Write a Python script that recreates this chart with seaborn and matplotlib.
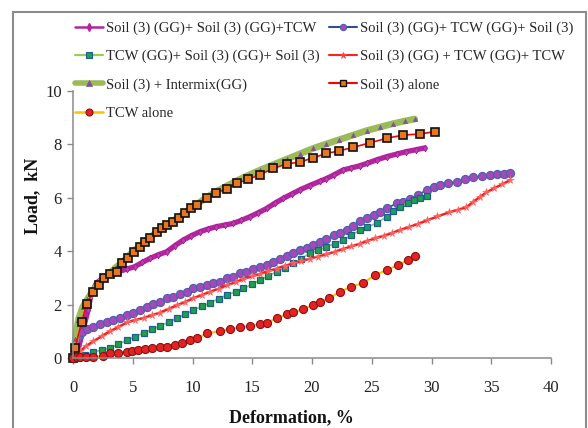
import matplotlib
matplotlib.use("Agg")
import matplotlib.pyplot as plt
from matplotlib.lines import Line2D
from matplotlib.patches import Rectangle
import seaborn as sns

# ---- data: deformation (%) vs load (kN) ----
s1_x = [0, 0.17, 0.42, 0.84, 1.26, 1.53, 1.95, 2.65, 3.2, 3.77, 4.5, 5.16, 5.8, 6.44, 7.1, 7.84,
        8.5, 9.23, 9.9, 10.63, 11.3, 12.0, 12.7, 13.4, 14.1, 14.8, 15.5, 16.2, 16.9, 17.6, 18.3,
        19.0, 19.8, 20.67, 21.2, 21.8, 22.6, 23.3, 24.0, 24.6, 25.4, 26.25, 27.1, 27.9, 28.7, 29.45]
s1_y = [0, 0.05, 0.3, 1.05, 1.8, 2.42, 2.8, 3.05, 3.15, 3.23, 3.33, 3.42, 3.58, 3.73, 3.86, 3.98,
        4.2, 4.42, 4.58, 4.73, 4.83, 4.92, 4.98, 5.04, 5.16, 5.29, 5.44, 5.6, 5.8, 5.98, 6.14,
        6.3, 6.46, 6.62, 6.72, 6.85, 7.04, 7.12, 7.2, 7.29, 7.42, 7.54, 7.64, 7.73, 7.8, 7.87]

s2_x = [0, 0.17, 0.44, 0.73, 1.14, 1.7, 2.26, 2.82, 3.37, 3.93, 4.49, 5.05, 5.6, 6.17, 6.72, 7.28,
        7.84, 8.4, 8.95, 9.5, 10.07, 10.6, 11.2, 11.74, 12.3, 12.86, 13.4, 14.0, 14.5, 15.1, 15.65,
        16.2, 16.76, 17.3, 17.9, 18.4, 19.0, 19.55, 20.1, 20.67, 21.2, 21.8, 22.34, 22.9, 23.45,
        24.0, 24.6, 25.2, 25.7, 26.3, 27.1, 27.6, 28.2, 28.9, 29.6, 30.2, 30.7, 31.4, 32.1, 32.8,
        33.5, 34.2, 34.9, 35.5, 36.1, 36.6]
s2_y = [0, 0.05, 0.8, 0.98, 1.07, 1.17, 1.27, 1.36, 1.42, 1.51, 1.61, 1.7, 1.8, 1.92, 2.02, 2.11,
        2.23, 2.3, 2.38, 2.48, 2.61, 2.67, 2.73, 2.8, 2.86, 2.98, 3.04, 3.17, 3.23, 3.33, 3.42,
        3.5, 3.6, 3.72, 3.82, 3.92, 4.06, 4.13, 4.23, 4.36, 4.44, 4.6, 4.7, 4.8, 4.94,
        5.12, 5.25, 5.36, 5.48, 5.62, 5.79, 5.86, 5.94, 6.12, 6.29, 6.4, 6.48, 6.55, 6.6, 6.7,
        6.77, 6.81, 6.85, 6.88, 6.9, 6.94]

s3_x = [0, 0.17, 0.6, 1.0, 1.7, 2.4, 3.1, 3.8, 4.5, 5.2, 5.9, 6.6, 7.28, 8.0, 8.68, 9.4, 10.07,
        10.8, 11.46, 12.2, 12.86, 13.6, 14.25, 15.0, 15.65, 16.3, 17.05, 17.7, 18.43, 19.1, 19.8,
        20.5, 21.2, 21.9, 22.6, 23.3, 24.0, 24.6, 25.4, 26.25, 26.8, 27.4, 28.0, 28.5, 29.0, 29.6]
s3_y = [0, 0, 0.08, 0.13, 0.22, 0.3, 0.38, 0.52, 0.66, 0.8, 0.94, 1.07, 1.2, 1.34, 1.49, 1.64, 1.8,
        1.93, 2.07, 2.22, 2.36, 2.48, 2.61, 2.76, 2.92, 3.07, 3.23, 3.38, 3.54, 3.72, 3.92,
        4.04, 4.17, 4.28, 4.42, 4.6, 4.79, 4.9, 5.05, 5.29, 5.5, 5.67, 5.8, 5.92, 6.0, 6.07]

s4_x = [0, 0.3, 0.59, 1.1, 1.7, 2.4, 3.1, 3.8, 4.5, 5.2, 5.9, 6.6, 7.28, 8.0, 8.68, 9.4, 10.07,
        10.8, 11.46, 12.2, 12.86, 13.6, 14.25, 15.0, 15.65, 16.3, 17.05, 17.7, 18.43, 19.1, 19.83,
        20.5, 21.2, 21.9, 22.6, 23.3, 24.0, 24.6, 25.3, 26.0, 26.7, 27.4, 28.1, 28.9, 29.6, 30.5,
        31.5, 32.2, 32.9, 33.5, 34.06, 34.6, 35.2, 35.9, 36.6]
s4_y = [0, 0.12, 0.25, 0.45, 0.62, 0.82, 1.0, 1.16, 1.33, 1.42, 1.5, 1.6, 1.7, 1.84, 1.97, 2.1, 2.24,
        2.36, 2.48, 2.6, 2.72, 2.84, 2.96, 3.06, 3.15, 3.25, 3.35, 3.45, 3.54, 3.63, 3.72,
        3.8, 3.88, 3.98, 4.08, 4.18, 4.28, 4.38, 4.48, 4.58, 4.68, 4.8, 4.9, 5.03, 5.15, 5.3,
        5.46, 5.55, 5.64, 5.85, 6.04, 6.2, 6.35, 6.5, 6.67]

s5_x = [0, 0.2, 0.44, 0.8, 1.2, 1.7, 2.3, 3.0, 3.6, 4.2, 5.0, 5.6, 6.2, 7.0, 7.6, 8.4, 9.0, 9.8,
        10.5, 11.2, 12.0, 12.9, 13.7, 14.7, 15.65, 16.8, 17.9, 19.0, 20.1, 21.2, 22.3, 23.45,
        24.6, 25.7, 26.8, 27.8, 28.6]
s5_y = [0, 0.7, 1.42, 1.9, 2.2, 2.55, 2.85, 3.15, 3.4, 3.62, 3.98, 4.2, 4.42, 4.72, 4.92, 5.15,
        5.32, 5.58, 5.8, 6.02, 6.24, 6.45, 6.64, 6.85, 7.04, 7.25, 7.45, 7.65, 7.85, 8.02, 8.18,
        8.35, 8.52, 8.65, 8.78, 8.88, 8.95]

s6_x = [0, 0.17, 0.73, 1.14, 1.7, 2.18, 2.62, 3.1, 3.65, 4.07, 4.63, 5.1, 5.6, 6.0, 6.45, 7.0,
        7.42, 7.9, 8.4, 8.87, 9.37, 9.85, 10.35, 11.2, 12.0, 12.86, 13.7, 14.67, 15.65, 16.76,
        17.88, 19.0, 20.1, 21.2, 22.3, 23.45, 24.85, 26.25, 27.64, 29.04, 30.3]
s6_y = [0, 0.37, 1.35, 2.02, 2.48, 2.75, 3.0, 3.13, 3.23, 3.54, 3.76, 3.98, 4.17, 4.36, 4.5, 4.73,
        4.86, 5.0, 5.1, 5.25, 5.42, 5.6, 5.73, 6.0, 6.19, 6.34, 6.54, 6.69, 6.87, 7.1,
        7.27, 7.34, 7.5, 7.66, 7.76, 7.89, 8.06, 8.23, 8.35, 8.39, 8.48]

s7_x = [0, 0.3, 0.6, 1.1, 1.7, 2.5, 3.1, 3.8, 4.5, 4.9, 5.47, 6.0, 6.6, 7.28, 7.84, 8.54, 9.1,
        9.8, 10.35, 11.2, 12.3, 13.1, 14.0, 14.8, 15.65, 16.2, 17.05, 17.9, 18.4, 19.27, 20.1,
        20.67, 21.4, 22.34, 23.3, 24.3, 25.27, 26.25, 27.2, 28.06, 28.6]
s7_y = [0, 0.03, 0.03, 0.04, 0.05, 0.09, 0.17, 0.2, 0.24, 0.27, 0.3, 0.32, 0.36, 0.4, 0.42, 0.49,
        0.57, 0.67, 0.74, 0.92, 1.01, 1.07, 1.15, 1.2, 1.27, 1.32, 1.49, 1.64, 1.71, 1.83, 1.99,
        2.08, 2.23, 2.48, 2.67, 2.82, 3.1, 3.3, 3.48, 3.67, 3.82]

labels = [
    "Soil (3) (GG)+ Soil (3) (GG)+TCW",
    "Soil (3) (GG)+ TCW (GG)+ Soil (3)",
    "TCW (GG)+ Soil (3) (GG)+ Soil (3)",
    "Soil (3) (GG) + TCW (GG)+ TCW",
    "Soil (3) + Intermix(GG)",
    "Soil (3) alone",
    "TCW alone",
]
x_ticks = [0, 5, 10, 15, 20, 25, 30, 35, 40]
y_ticks = [0, 2, 4, 6, 8, 10]

# ---- styling ----
sns.set_theme(style="white")
serif = ["Liberation Serif", "DejaVu Serif"]
plt.rcParams["font.family"] = serif

W, H = 588, 428
fig = plt.figure(figsize=(W / 100, H / 100), dpi=100)
ax = fig.add_axes([73 / W, 1 - 358 / H, 478 / W, 267 / H])

# plot styles (curve) and legend-key styles
styles = [
    dict(color="#B3259E", lw=3.8, marker="d", ms=3.5, mfc="#C040B0", mec="#A01890", mew=0.5),
    dict(color="#2F4F8F", lw=1.2, marker="o", ms=5.8, mfc="#A848B8", mec="#4A62B0", mew=0.9),
    dict(color="#92D050", lw=1.2, marker="s", ms=4.4, mfc="#1FA04A", mec="#1F5C99", mew=0.9),
    dict(color="#F22222", lw=1.8, marker="*", ms=5.5, mfc="#FF5A5A", mec="#FF6A6A", mew=0.5),
    dict(color="#9BBB59", lw=4.8, marker="^", ms=3.2, mfc="#7F4FA0", mec="#7F4FA0", mew=0.4),
    dict(color="#FF0000", lw=1.2, marker="s", ms=6, mfc="#E8761E", mec="#111111", mew=1.2),
    dict(color="#FFC000", lw=1.5, marker="o", ms=5.8, mfc="#E42222", mec="#8A1010", mew=0.8),
]
key_styles = [
    dict(color="#B3259E", lw=1.8, marker="d", ms=4, mfc="#B3259E", mec="#B3259E"),
    dict(color="#2F4F8F", lw=1.5, marker="o", ms=4.5, mfc="#A848B8", mec="#4A62B0", mew=0.8),
    dict(color="#92D050", lw=1.5, marker="s", ms=4, mfc="#1FA04A", mec="#1F5C99", mew=0.8),
    dict(color="#FF2020", lw=1.5, marker="*", ms=5, mfc="#FF4040", mec="#FF4040", mew=0.5),
    dict(color="#9BBB59", lw=4, marker="^", ms=5, mfc="#7F4FA0", mec="#7F4FA0", mew=0.5),
    dict(color="#FF0000", lw=1.5, marker="s", ms=5, mfc="#E8761E", mec="#111111", mew=1),
    dict(color="#FFC000", lw=1.8, marker="o", ms=5, mfc="#E42222", mec="#8A1010", mew=0.8),
]
series = [(s1_x, s1_y), (s2_x, s2_y), (s3_x, s3_y), (s4_x, s4_y),
          (s5_x, s5_y), (s6_x, s6_y), (s7_x, s7_y)]

for (xs, ys), st in zip(series, styles):
    sns.lineplot(x=xs, y=ys, ax=ax, sort=False, estimator=None, clip_on=False, **st)

handles = [Line2D([], [], **ks) for ks in key_styles]

ax.set_xlim(0, 40)
ax.set_ylim(0, 10)
ax.set_xticks(x_ticks)
ax.set_yticks(y_ticks)
ax.set_xticklabels([str(v) for v in x_ticks])
ax.set_yticklabels([str(v) for v in y_ticks])
ax.set_xlabel("")
ax.set_ylabel("")
for side in ("top", "right"):
    ax.spines[side].set_visible(False)
for side in ("left", "bottom"):
    ax.spines[side].set_color("#8a8a8a")
    ax.spines[side].set_linewidth(1.1)
ax.tick_params(axis="x", direction="out", length=4.5, width=1, color="#8a8a8a",
               pad=11, labelsize=12, bottom=True)
ax.tick_params(axis="y", direction="out", length=4, width=1, color="#8a8a8a",
               pad=4, labelsize=12, left=True)
for t in ax.get_xticklabels() + ax.get_yticklabels():
    t.set_family(serif)
    t.set_color("#222222")

fig.text(291 / W, 1 - 418 / H, "Deformation, %", ha="center", va="center",
         fontsize=13, fontweight="bold", family=serif, color="#111111")
fig.text(33 / W, 1 - 196 / H, "Load,  kN", ha="center", va="center", rotation=90,
         fontsize=13, fontweight="bold", family=serif, color="#111111")

leg_kw = dict(loc="upper left", frameon=False, borderpad=0, borderaxespad=0,
              handlelength=1.9, handletextpad=0.25, labelspacing=1.02,
              prop={"family": serif, "size": 10.5}, numpoints=1)
order1 = [0, 2, 4, 6]
order2 = [1, 3, 5]
fig.legend([handles[i] for i in order1], [labels[i] for i in order1],
           bbox_to_anchor=(75 / W, 1 - 21.5 / H), **leg_kw)
fig.legend([handles[i] for i in order2], [labels[i] for i in order2],
           bbox_to_anchor=(329 / W, 1 - 21.5 / H), **leg_kw)

# outer frame around the chart
fig.patches.append(Rectangle((13 / W, -0.05), (586 - 13) / W, 1.05 - 12 / H,
                             transform=fig.transFigure, fill=False,
                             edgecolor="#8c8c8c", linewidth=1.5))

fig.savefig("out.png", dpi=100)
